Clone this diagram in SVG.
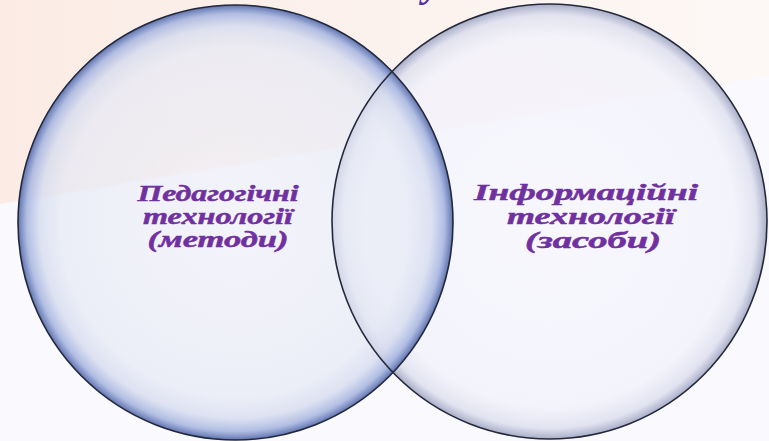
<svg xmlns="http://www.w3.org/2000/svg" width="769" height="441" viewBox="0 0 769 441">
  <style>
    .lbl { font-family: "Liberation Serif", "DejaVu Serif", serif; font-weight: bold; font-style: italic; font-size: 24px; fill: #7030a0; stroke: #7030a0; stroke-width: 0.5; text-anchor: middle; }
    .rim { fill: none; stroke: #23283a; stroke-width: 1.6; }
  </style>
  <defs>
    <linearGradient id="bgPeach" x1="0" y1="0" x2="1" y2="0">
      <stop offset="0" stop-color="#fbebe4"/>
      <stop offset="0.6" stop-color="#fcf3ef"/>
      <stop offset="1" stop-color="#fdf8f6"/>
    </linearGradient>
    <radialGradient id="gLeft" cx="0.5" cy="0.5" r="0.5">
      <stop offset="0" stop-color="#eef0f8" stop-opacity="0.55"/>
      <stop offset="0.8" stop-color="#e6e9f5" stop-opacity="0.7"/>
      <stop offset="0.9" stop-color="#d6dcef" stop-opacity="0.8"/>
      <stop offset="0.96" stop-color="#a9b7e0" stop-opacity="0.9"/>
      <stop offset="1" stop-color="#5f73b0" stop-opacity="1"/>
    </radialGradient>
    <radialGradient id="gRight" cx="0.5" cy="0.5" r="0.5">
      <stop offset="0" stop-color="#f6f6fd" stop-opacity="0.7"/>
      <stop offset="0.85" stop-color="#f2f2fb" stop-opacity="0.8"/>
      <stop offset="0.95" stop-color="#dfe1ef" stop-opacity="0.9"/>
      <stop offset="1" stop-color="#a8adc8" stop-opacity="1"/>
    </radialGradient>
  </defs>

  <rect width="769" height="441" fill="#faf9fd"/>
  <polygon points="0,0 769,0 769,76 0,204" fill="url(#bgPeach)"/>

  <g id="right-circle">
    <circle cx="549.5" cy="221.5" r="217.5" fill="url(#gRight)"/>
  </g>
  <g id="left-circle">
    <circle cx="235.5" cy="222.5" r="217.5" fill="url(#gLeft)"/>
  </g>
  <g id="outlines">
    <circle class="rim" cx="549.5" cy="221.5" r="217.5"/>
    <circle class="rim" cx="235.5" cy="222.5" r="217.5"/>
  </g>

  <g id="title-fragment">
    <text x="432" y="-4" style="font-family: 'Liberation Serif', serif; font-weight: bold; font-style: italic; font-size: 40px; fill: #5a2ea6; text-anchor: middle;">у</text>
  </g>

  <g id="node-pedagogical">
    <text class="lbl" x="218" y="201" textLength="161" lengthAdjust="spacingAndGlyphs">Педагогічні</text>
    <text class="lbl" x="218" y="224" textLength="150" lengthAdjust="spacingAndGlyphs">технології</text>
    <text class="lbl" x="218" y="247" textLength="141" lengthAdjust="spacingAndGlyphs">(методи)</text>
  </g>
  <g id="node-information">
    <text class="lbl" x="586" y="200" textLength="224" lengthAdjust="spacingAndGlyphs">Інформаційні</text>
    <text class="lbl" x="591" y="224" textLength="168" lengthAdjust="spacingAndGlyphs">технології</text>
    <text class="lbl" x="593" y="248" textLength="136" lengthAdjust="spacingAndGlyphs">(засоби)</text>
  </g>
</svg>
